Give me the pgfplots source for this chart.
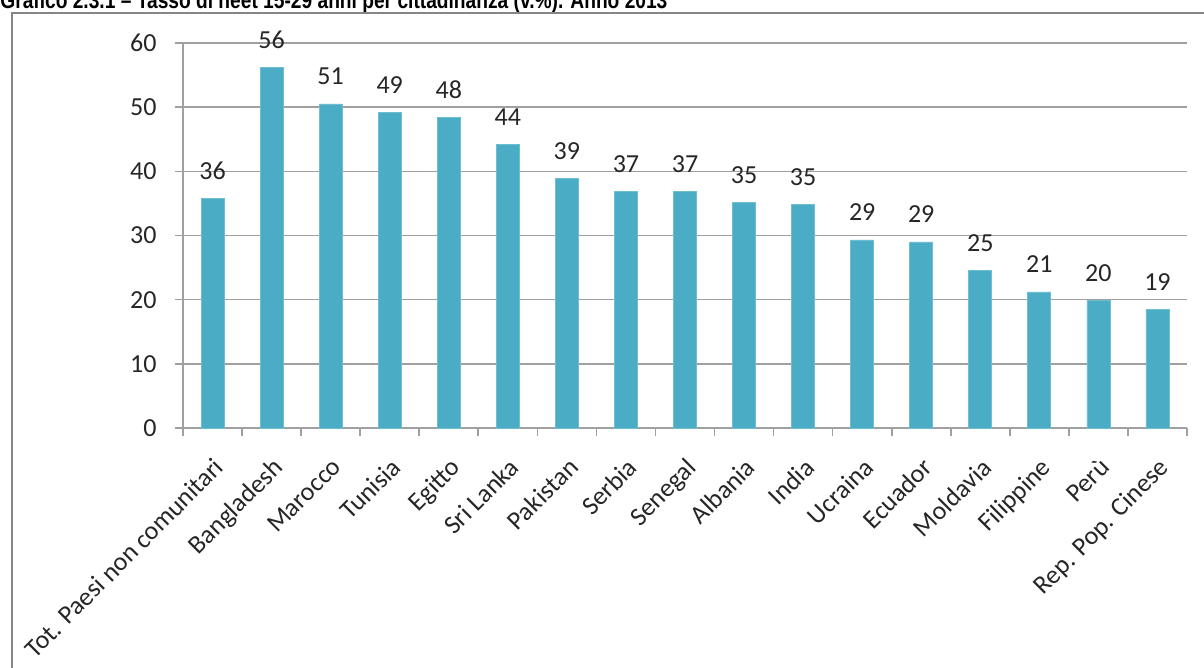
\documentclass[border=0pt]{standalone}
\usepackage{fontspec}
\setmainfont{Carlito}
\newfontfamily\titlefont[FakeStretch=0.82]{Liberation Sans}
\usepackage{pgfplots}
\usepackage{pgfplotstable}
\pgfplotsset{compat=1.18}

\definecolor{barblue}{HTML}{4BACC6}
\definecolor{axgray}{HTML}{A0A0A0}
\definecolor{framegray}{HTML}{868686}

% tasso di neet 15-29 anni, valori stimati dal grafico
\pgfplotstableread{
x y lab
0 35.8 36
1 56.2 56
2 50.5 51
3 49.2 49
4 48.4 48
5 44.2 44
6 38.9 39
7 36.8 37
8 36.8 37
9 35.2 35
10 34.8 35
11 29.3 29
12 29.0 29
13 24.6 25
14 21.2 21
15 19.9 20
16 18.5 19
}\neet

\begin{document}
\begin{tikzpicture}
\useasboundingbox (0,0) rectangle (602pt,334pt);

% titolo (tagliato in alto come nell'originale) e cornice
\node[anchor=base west, inner sep=0pt] at (0pt,329.5pt)
  {\resizebox{333.5pt}{!}{\titlefont\bfseries Grafico 2.3.1 – Tasso di neet 15-29 anni per cittadinanza (v.\%). Anno 2013}};
\draw[framegray, line width=1pt] (6pt,-10pt) -- (6pt,327.5pt) -- (620pt,327.5pt);

\begin{axis}[
  at={(91.5pt,120pt)}, anchor=south west,
  scale only axis, width=502pt, height=192.5pt,
  xmin=-0.5, xmax=16.5, ymin=0, ymax=60,
  ytick={0,10,...,60},
  xtick={-0.5,0.5,...,16.5}, xticklabels={},
  extra x ticks={0,...,16},
  extra x tick labels={Tot. Paesi non comunitari, Bangladesh, Marocco, Tunisia, Egitto, Sri Lanka, Pakistan, Serbia, Senegal, Albania, India, Ucraina, Ecuador, Moldavia, Filippine, Perù, Rep. Pop. Cinese},
  extra x tick style={major tick length=0pt, grid=none},
  axis lines*=left, axis line style={axgray, line width=0.8pt, -},
  tick align=outside, tick pos=left, major tick length=4pt,
  tick style={axgray, line width=0.8pt},
  ymajorgrids, grid style={axgray, line width=0.8pt},
  /pgf/number format/assume math mode=true,
  tick label style={font=\fontsize{13}{15}\selectfont, text=black!85},
  yticklabel style={anchor=east, inner sep=0pt, xshift=-9pt},
  xticklabel style={rotate=45, anchor=north east, inner sep=0pt},
  xticklabel shift=14pt,
  clip=false,
]
\addplot[ybar, bar width=11.5pt, bar shift=0pt, fill=barblue, draw=barblue!80!white,
  point meta=explicit symbolic, nodes near coords,
  every node near coord/.append style={anchor=base, yshift=9.5pt, inner sep=0pt,
    font=\fontsize{13}{15}\selectfont, text=black!85}]
  table[x=x, y=y, meta=lab] {\neet};
\end{axis}
\end{tikzpicture}
\end{document}
